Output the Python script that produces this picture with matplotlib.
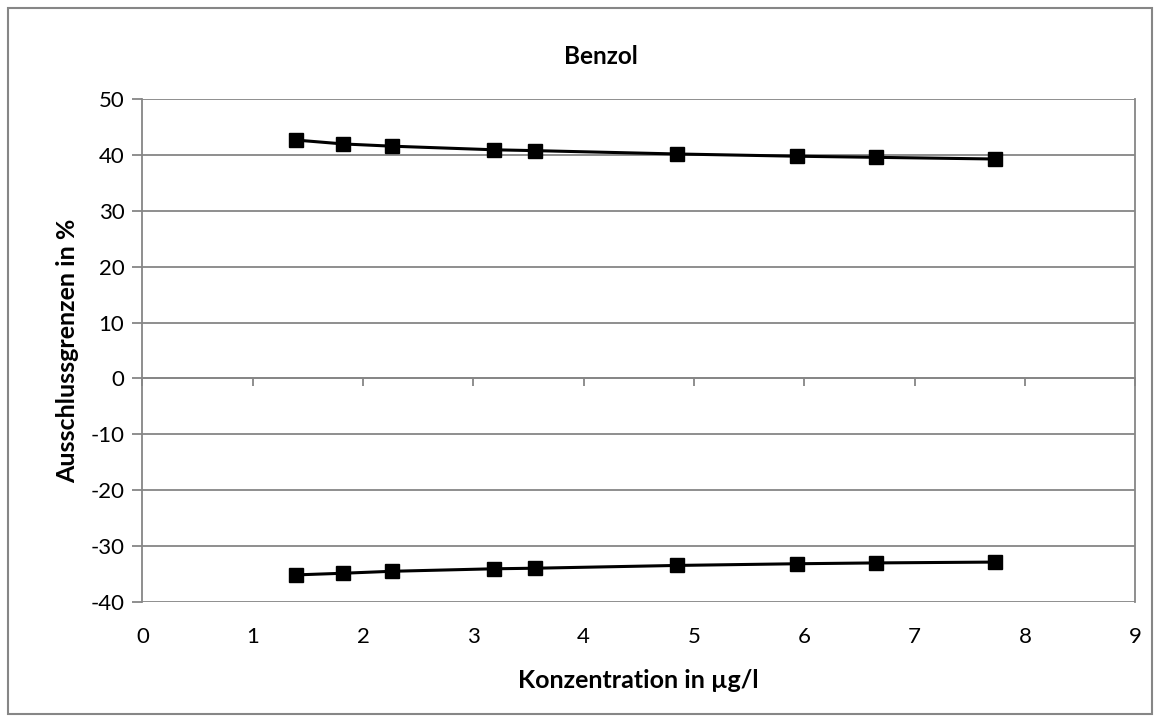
import matplotlib.pyplot as plt
from matplotlib.patches import Rectangle

# Konzentration in µg/l
konz = [1.39, 1.82, 2.26, 3.19, 3.56, 4.85, 5.93, 6.65, 7.73]
# Ausschlussgrenzen in %
obere_grenze = [42.7, 42.0, 41.6, 40.95, 40.8, 40.2, 39.8, 39.6, 39.3]
untere_grenze = [-35.2, -34.9, -34.55, -34.1, -34.0, -33.5, -33.2, -33.05, -32.9]

titel = "Benzol"
x_label = "Konzentration in µg/l"
y_label = "Ausschlussgrenzen in %"

plt.rcParams["font.family"] = ["Lato", "DejaVu Sans"]
plt.rcParams["axes.unicode_minus"] = False
grau = "#868686"

fig = plt.figure(figsize=(11.6, 7.22), dpi=100)
ax = fig.add_axes([0.1227, 0.1666, 0.856, 0.6959])

for werte in (obere_grenze, untere_grenze):
    ax.plot(konz, werte, color="black", lw=2.2, marker="s", ms=10,
            markerfacecolor="black", markeredgecolor="black", zorder=3)

ax.set_xlim(0, 9)
ax.set_ylim(-40, 50)
ax.set_yticks(range(-40, 51, 10))
ax.set_xticks(range(0, 10))

ax.grid(axis="y", color=grau, lw=1.3)
ax.set_axisbelow(True)

# x-Achse kreuzt bei 0, Beschriftung unten
ax.spines["bottom"].set_position(("data", 0))
ax.spines["top"].set_visible(False)
for s in ("bottom", "left", "right"):
    ax.spines[s].set_color(grau)
    ax.spines[s].set_linewidth(1.3)
ax.tick_params(axis="x", direction="out", length=6, color=grau, width=1.3,
               labelbottom=False)
ax.tick_params(axis="y", direction="out", length=7, color=grau, width=1.3,
               labelsize=16, pad=6)

sec = ax.secondary_xaxis(0.0)
sec.set_xticks(range(0, 10))
sec.tick_params(length=0, labelsize=16, pad=18)
sec.spines["bottom"].set_visible(False)
sec.set_xlabel(x_label, fontsize=18, fontweight="bold", labelpad=16)

ax.set_ylabel(y_label, fontsize=18, fontweight="bold", labelpad=8)

fig.text(601 / 1160, 1 - 57 / 722, titel, ha="center", va="center",
         fontsize=17.5, fontweight="bold")

# Rahmen um das Diagramm
fig.patches.append(Rectangle((8 / 1160, 8 / 722), 1144 / 1160, 706 / 722,
                             transform=fig.transFigure, fill=False,
                             edgecolor=grau, lw=1.5))

fig.savefig("out.png", dpi=100)
